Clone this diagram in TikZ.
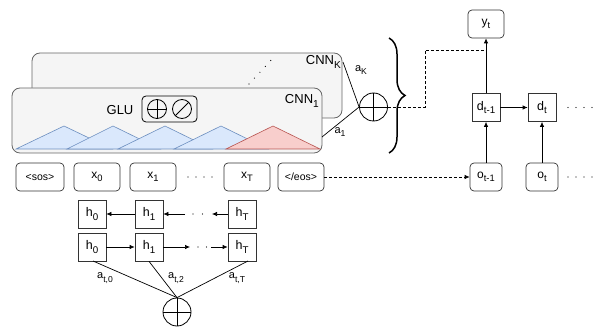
\documentclass[tikz,border=0pt]{standalone}
\usepackage{fontspec}
\setmainfont{Liberation Sans}
\usetikzlibrary{arrows.meta,decorations.pathreplacing,calc}
\definecolor{cnnfill}{HTML}{F5F5F5}
\definecolor{cnnline}{HTML}{666666}
\definecolor{bluefill}{HTML}{DAE8FC}
\definecolor{blueline}{HTML}{6C8EBF}
\definecolor{redfill}{HTML}{F8CECC}
\definecolor{redline}{HTML}{B85450}
\newcommand{\sub}[1]{\raisebox{-0.3em}{\fontsize{0.78em}{1em}\selectfont #1}}
\begin{document}
\begin{tikzpicture}[x=1pt,y=-1pt,
  cnnbox/.style={draw=cnnline, fill=cnnfill, rounded corners=8pt, line width=0.8pt, inner sep=0pt},
  tok/.style={draw=black!80, rounded corners=4pt, minimum height=28pt, inner sep=0pt, line width=0.7pt, font=\fontsize{12}{14}\selectfont},
  hid/.style={draw=black!80, minimum width=28pt, minimum height=28pt, inner sep=0pt, line width=0.7pt, font=\fontsize{12.5}{14}\selectfont},
  arr/.style={-{Latex[length=5pt,width=4.5pt]}, line width=0.7pt},
  conn/.style={line width=0.7pt},
  dots/.style={line width=1.2pt, line cap=round, dash pattern=on 0pt off 8pt},
  plus/.style={circle, draw, inner sep=0pt, line width=0.8pt,
    path picture={\draw[line width=0.8pt] (path picture bounding box.north) -- (path picture bounding box.south)
      (path picture bounding box.west) -- (path picture bounding box.east);}},
  slash/.style={circle, draw, inner sep=0pt, line width=0.8pt,
    path picture={\draw[line width=0.8pt] (path picture bounding box.north east) -- (path picture bounding box.south west);}},
  bluetri/.style={draw=blueline, fill=bluefill, line width=0.6pt},
  redtri/.style={draw=redline, fill=redfill, line width=0.6pt},
  lbl/.style={font=\fontsize{13}{15}\selectfont, inner sep=0pt},
  wlbl/.style={font=\fontsize{11}{12}\selectfont, inner sep=0pt}
]
\useasboundingbox (0,0) rectangle (597,334);

% CNN boxes
\node[cnnbox, minimum width=310pt, minimum height=65pt] (cnnK) at (187,85.5) {};
\draw[dots] (249,84) -- (275,56);
\node[lbl, anchor=east] (lK) at (341,62) {CNN\sub{K}};
\node[cnnbox, minimum width=310pt, minimum height=65pt] (cnn1) at (167,120.5) {};
\node[lbl, anchor=east] (l1) at (319,101) {CNN\sub{1}};

% triangles
\draw[bluetri] (16,149) -- (64,126) -- (112,149) -- cycle;
\draw[bluetri] (67,149) -- (113,126) -- (160,149) -- cycle;
\draw[bluetri] (118,149) -- (165,126) -- (212,149) -- cycle;
\draw[bluetri] (174,149) -- (221,126) -- (268,149) -- cycle;
\draw[redtri] (226,149) -- (273,126) -- (320,149) -- cycle;

% GLU
\node[lbl] (glu) at (120,110) {GLU};
\node[draw, rounded corners=4pt, minimum width=55pt, minimum height=26pt, line width=0.8pt] (glubox) at (169.5,109) {};
\node[plus, minimum size=19pt] (gp) at (157,109) {};
\node[slash, minimum size=19pt] (gs) at (182,109) {};

% sum of CNNs
\node[plus, minimum size=28pt] (sum) at (373.5,107) {};
\coordinate (kstart) at (343,62);
\coordinate (onestart) at (322,137);
\draw[conn] (kstart) -- (sum.west);
\draw[conn] (onestart) -- (sum.west);
\node[wlbl] (aK) at (361,70) {a\sub{K}};
\node[wlbl] (a1) at (340,132) {a\sub{1}};

% brace
\draw[decorate, decoration={brace, amplitude=16pt}, line width=1.5pt] (389,38) -- (389,153);

% decoder
\node[tok, minimum width=36pt] (yt) at (486,24) {y\sub{t}};
\node[hid] (dt1) at (486,107.5) {d\sub{t-1}};
\node[hid] (dt) at (542,107.5) {d\sub{t}};
\node[tok, minimum width=32pt] (ot1) at (486,177) {o\sub{t-1}};
\node[tok, minimum width=32pt] (ot) at (542,177) {o\sub{t}};
\draw[arr] (ot1) -- (dt1);
\draw[arr] (ot) -- (dt);
\draw[arr] (dt1) -- (dt);
\draw[arr] (dt1) -- (yt);
\coordinate (dd1) at (568,107.5);
\coordinate (dd2) at (597,107.5);
\draw[dots] (dd1) -- (dd2);
\coordinate (od1) at (568,177);
\coordinate (od2) at (597,177);
\draw[dots] (od1) -- (od2);

% dashed from sum to y
\coordinate (jy) at (486,50);
\draw[conn, dashed, dash pattern=on 3pt off 2pt] (sum.east) -- (425,107) -- (425,50) -- (jy);

% tokens
\node[tok, minimum width=48pt, font=\fontsize{10.5}{12}\selectfont] (sos) at (40,177) {<sos>};
\node[tok, minimum width=46pt] (x0) at (97,177) {x\sub{0}};
\node[tok, minimum width=46pt] (x1) at (153,177) {x\sub{1}};
\coordinate (xd1) at (188,177);
\coordinate (xd2) at (212,177);
\draw[dots] (xd1) -- (xd2);
\node[tok, minimum width=46pt] (xT) at (247,177) {x\sub{T}};
\node[tok, minimum width=46pt, font=\fontsize{10.5}{12}\selectfont] (eos) at (301,177) {</eos>};
\draw[arr, dashed, dash pattern=on 3pt off 2pt] (eos) -- (ot1);

% encoder hidden states
\node[hid] (h0t) at (92,214) {h\sub{0}};
\node[hid] (h1t) at (149,214) {h\sub{1}};
\node[hid] (hTt) at (242,214) {h\sub{T}};
\node[hid] (h0b) at (92,247) {h\sub{0}};
\node[hid] (h1b) at (149,247) {h\sub{1}};
\node[hid] (hTb) at (242,247) {h\sub{T}};

\draw[arr] (h1t) -- (h0t);
\coordinate (t1) at (185,214);
\coordinate (t2) at (212,214);
\draw[arr] (t1) -- (h1t);
\draw[arr] (hTt) -- (t2);
\coordinate (td1) at (193,214);
\coordinate (td2) at (203,214);
\draw[dots, dash pattern=on 0pt off 9.5pt] (td1) -- (td2);

\draw[arr] (h0b) -- (h1b);
\coordinate (b1) at (190,247);
\coordinate (b2) at (211,247);
\draw[arr] (h1b) -- (b1);
\draw[arr] (b2) -- (hTb);
\coordinate (bd1) at (198,247);
\coordinate (bd2) at (207,247);
\draw[dots, dash pattern=on 0pt off 8.5pt] (bd1) -- (bd2);

% attention sum
\node[plus, minimum size=28pt] (att) at (177,312) {};
\coordinate (s0) at (93,261);
\coordinate (sT) at (248,261);
\draw[conn] (s0) -- (att.north);
\draw[conn] (h1b.south) -- (att.north);
\draw[conn] (sT) -- (att.north);
\node[wlbl] (at0) at (105,278) {a\sub{t,0}};
\node[wlbl] (at2) at (176,278) {a\sub{t,2}};
\node[wlbl] (atT) at (237,278) {a\sub{t,T}};
\end{tikzpicture}
\end{document}
